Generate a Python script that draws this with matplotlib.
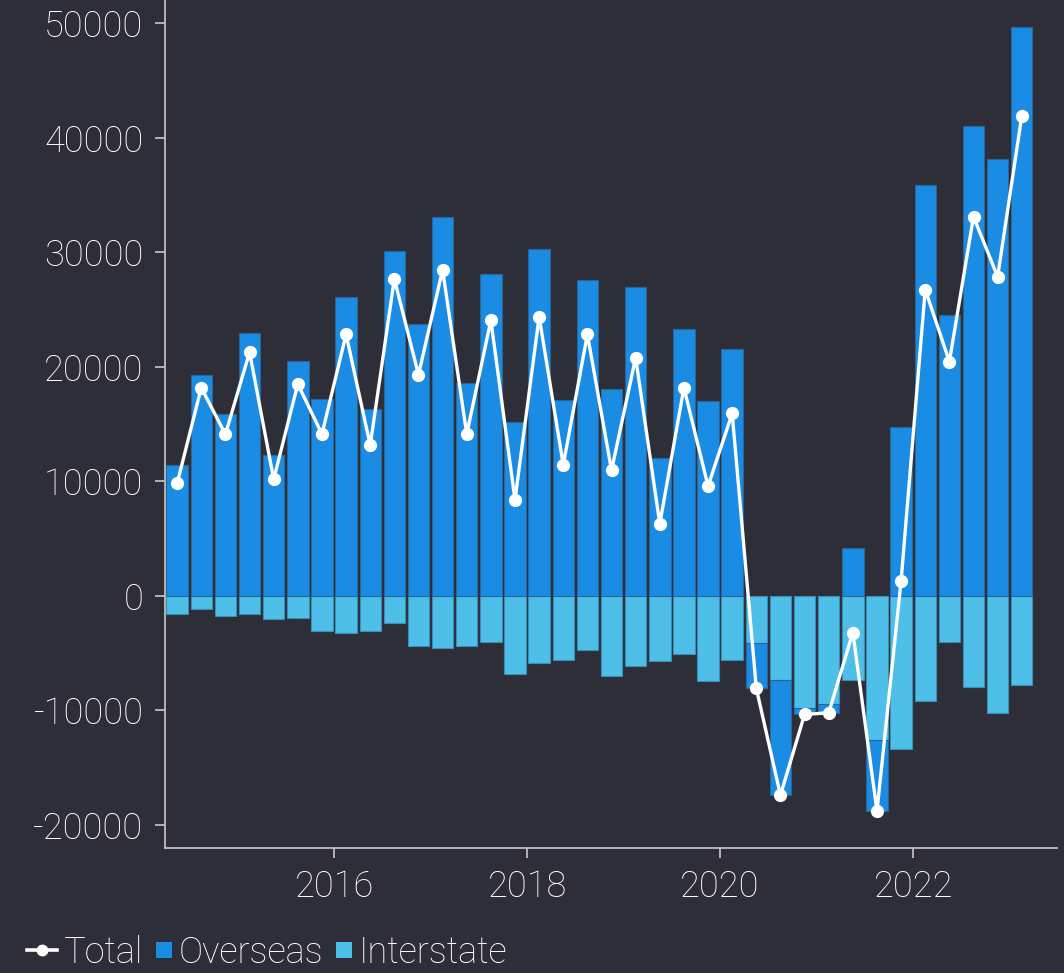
import matplotlib
matplotlib.use("Agg")
import matplotlib.pyplot as plt
from matplotlib.lines import Line2D
from matplotlib.patches import Patch, Rectangle
from matplotlib.legend_handler import HandlerPatch
import numpy as np

# Quarterly periods (mid-quarter, decimal years) from 2014 Q2 to 2023 Q1
periods = [2014.375 + 0.25 * i for i in range(36)]

overseas = [11390, 19300, 15870, 22920, 12260, 20470, 17210, 26060, 16280, 30100,
            23760, 33070, 18550, 28100, 15200, 30280, 17060, 27540, 18020, 26960,
            12030, 23290, 17000, 21520, -3930, -10050, -500, -760, 4140, -6180,
            14760, 35870, 24520, 41050, 38140, 49690]
interstate = [-1570, -1160, -1800, -1630, -2060, -1980, -3110, -3230, -3110, -2410,
              -4420, -4600, -4420, -4050, -6810, -5900, -5590, -4720, -7040, -6170,
              -5730, -5120, -7420, -5620, -4160, -7360, -9840, -9460, -7360, -12600,
              -13410, -9170, -4070, -7950, -10270, -7800]
total = [9820, 18170, 14100, 21270, 10170, 18490, 14120, 22830, 13150, 27670,
         19310, 28460, 14120, 24060, 8380, 24370, 11430, 22830, 10960, 20790,
         6280, 18170, 9580, 15920, -8090, -17410, -10360, -10220, -3210, -18800,
         1320, 26740, 20450, 33100, 27870, 41890]
xticks = [2016, 2018, 2020, 2022]
yticks = [-20000, -10000, 0, 10000, 20000, 30000, 40000, 50000]
legend_labels = ["Total", "Overseas", "Interstate"]

BG = "#2e2e38"
C_OVER = "#1a8ce4"
C_INTER = "#4ebfe9"
FG = "#ffffff"
SPINE = "#c8c8cc"
FS = 26
WEIGHT = "light"

plt.rcParams["font.family"] = ["Roboto", "DejaVu Sans"]
plt.rcParams["font.weight"] = WEIGHT
plt.rcParams["axes.unicode_minus"] = False

fig = plt.figure(figsize=(10.64, 9.73), dpi=100, facecolor=BG)
ax = fig.add_axes([165 / 1064, 1 - 847.7 / 973, (1057 - 165) / 1064, 847.7 / 973])
ax.set_facecolor(BG)

x = np.array(periods)
ov = np.array(overseas, dtype=float)
it = np.array(interstate, dtype=float)
width = 0.222

ax.bar(x, it, width=width, bottom=0, color=C_INTER, edgecolor="#3b8fb5",
       linewidth=0.8, zorder=2)
ov_bottom = np.where(ov >= 0, 0, it)
ax.bar(x, ov, width=width, bottom=ov_bottom, color=C_OVER, edgecolor="#2a6598",
       linewidth=0.8, zorder=2)

ax.plot(x, total, color=FG, linewidth=2.4, marker="o", markersize=8.5,
        markerfacecolor=FG, markeredgecolor=FG, zorder=3)

ax.set_xlim(2014.249, 2023.49)
ax.set_ylim(-22000, 52030)
ax.set_xticks(xticks)
ax.set_xticklabels([str(t) for t in xticks])
ax.set_yticks(yticks)
ax.set_yticklabels([str(t) for t in yticks])

for s in ["top", "right"]:
    ax.spines[s].set_visible(False)
for s in ["left", "bottom"]:
    ax.spines[s].set_color(SPINE)
    ax.spines[s].set_linewidth(1.2)

ax.tick_params(axis="both", colors=SPINE, labelcolor=FG, labelsize=FS,
               length=7.5, width=1.2, pad=8)
for lab in ax.get_xticklabels() + ax.get_yticklabels():
    lab.set_fontweight(WEIGHT)


def square_patch(legend, orig_handle, xdescent, ydescent, width, height, fontsize):
    s = 11.5
    return Rectangle((-xdescent + width - s, -ydescent + (height - s) / 2), s, s)


handles = [
    Line2D([0], [0], color=FG, linewidth=2.6, marker="o", markersize=7.5),
    Patch(facecolor=C_OVER, edgecolor="none"),
    Patch(facecolor=C_INTER, edgecolor="none"),
]
leg = fig.legend(handles, legend_labels, loc="center left",
                 bbox_to_anchor=(27 / 1064, 1 - 953 / 973), ncol=3, frameon=False,
                 handlelength=0.83, handletextpad=0.2,
                 columnspacing=-0.05, labelcolor=FG, borderpad=0,
                 borderaxespad=0,
                 prop={"family": ["Roboto", "DejaVu Sans"], "size": FS, "weight": WEIGHT},
                 handler_map={Patch: HandlerPatch(patch_func=square_patch)})

fig.savefig("out.png", dpi=100, facecolor=BG)
